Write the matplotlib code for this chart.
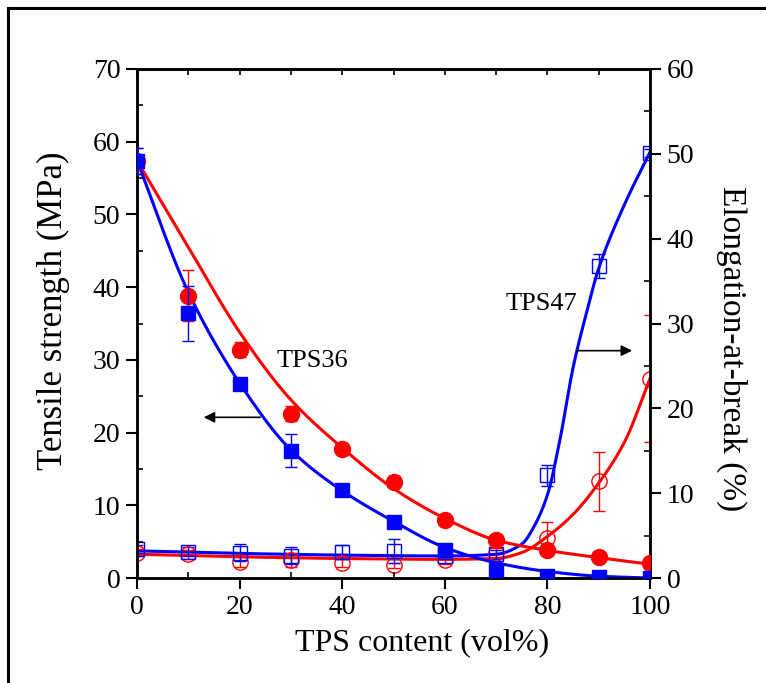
import numpy as np
import matplotlib
matplotlib.use("Agg")
import matplotlib.pyplot as plt
from matplotlib.ticker import MultipleLocator
from matplotlib.lines import Line2D

plt.rcParams['font.family'] = ['Liberation Serif', 'DejaVu Serif']
plt.rcParams['mathtext.fontset'] = 'stix'

# ---------------- data ----------------
tps_content = [0, 10, 20, 30, 40, 50, 60, 70, 80, 90, 100]

# tensile strength (MPa), left axis, filled symbols
ts_tps47 = [57.4, 36.4, 26.7, 17.5, 12.1, 7.7, 3.9, 1.1, 0.3, 0.1, 0.0]
ts_tps47_err = [1.8, 3.8, 0.6, 2.3, 0.8, 0.5, 0.4, 0.3, 0.2, 0.1, 0.1]
ts_tps36 = [57.4, 38.8, 31.4, 22.6, 17.8, 13.2, 8.0, 5.2, 3.85, 2.9, 2.1]
ts_tps36_err = [1.8, 3.5, 1.0, 1.0, 0.5, 0.8, 0.3, 0.3, 0.3, 0.3, 0.2]

# elongation at break (%), right axis, open symbols
el_tps47 = [3.4, 3.1, 3.0, 2.6, 3.1, 3.2, 2.6, 2.8, 12.1, 36.8, 50.1]
el_tps47_err = [0.5, 0.5, 1.0, 1.0, 0.8, 1.4, 0.4, 0.5, 1.2, 1.4, 0.5]
el_tps36 = [3.0, 2.8, 1.9, 2.1, 1.8, 1.5, 2.1, 3.0, 4.7, 11.4, 23.5]
el_tps36_err = [0.4, 0.5, 0.6, 0.8, 0.5, 0.3, 0.5, 0.5, 1.9, 3.5, 7.5]

# fitted curves at node positions
fit_ts_x = [0, 10, 20, 30, 40, 50, 60, 70, 80, 90, 100]
fit_ts_tps47 = [57.4, 39.3, 26.8, 17.6, 12.0, 7.8, 4.2, 2.1, 0.9, 0.25, 0.0]
fit_ts_tps36 = [57.4, 45.5, 33.8, 24.5, 17.9, 12.3, 8.2, 5.2, 3.8, 2.8, 1.9]

fit_el47_x = [0, 20, 40, 60, 70, 75, 77.5, 80, 82.5, 85, 87.5, 90, 95, 100]
fit_el_tps47 = [3.2, 2.9, 2.7, 2.6, 2.8, 4.0, 6.2, 9.8, 16.5, 24.8, 31.0, 36.5, 44.0, 50.2]
fit_el36_x = [0, 20, 40, 60, 70, 75, 80, 85, 90, 95, 100]
fit_el_tps36 = [2.8, 2.5, 2.3, 2.2, 2.3, 3.0, 4.9, 7.5, 11.2, 16.0, 23.5]

xticks = [0, 20, 40, 60, 80, 100]
yticks_left = [0, 10, 20, 30, 40, 50, 60, 70]
yticks_right = [0, 10, 20, 30, 40, 50, 60]


def pchip(xk, yk, xs):
    xk = np.asarray(xk, float)
    yk = np.asarray(yk, float)
    h = np.diff(xk)
    d = np.diff(yk) / h
    n = len(xk)
    m = np.zeros(n)
    for k in range(1, n - 1):
        if d[k - 1] * d[k] <= 0:
            m[k] = 0.0
        else:
            w1 = 2 * h[k] + h[k - 1]
            w2 = h[k] + 2 * h[k - 1]
            m[k] = (w1 + w2) / (w1 / d[k - 1] + w2 / d[k])
    m[0] = d[0]
    m[-1] = d[-1]
    xs = np.asarray(xs, float)
    idx = np.clip(np.searchsorted(xk, xs) - 1, 0, n - 2)
    t = (xs - xk[idx]) / h[idx]
    h00 = 2 * t**3 - 3 * t**2 + 1
    h10 = t**3 - 2 * t**2 + t
    h01 = -2 * t**3 + 3 * t**2
    h11 = t**3 - t**2
    return (h00 * yk[idx] + h10 * h[idx] * m[idx] +
            h01 * yk[idx + 1] + h11 * h[idx] * m[idx + 1])


BLUE = '#0000ff'
RED = '#ff0000'

fig = plt.figure(figsize=(7.66, 6.83), dpi=100)
ax = fig.add_axes([0.1789, 0.1537, 0.6697, 0.7453])
ax2 = ax.twinx()

# figure frame (left and top lines only are visible in the reference)
fig.add_artist(Line2D([0.011, 0.011], [0.0, 0.988], transform=fig.transFigure,
                      color='black', lw=2.2))
fig.add_artist(Line2D([0.011, 1.0], [0.988, 0.988], transform=fig.transFigure,
                      color='black', lw=2.2))

xs = np.linspace(0, 100, 400)

# elongation (right axis) - open symbols
ax2.errorbar(tps_content, el_tps36, yerr=el_tps36_err, fmt='o', ms=11,
             mfc='none', mec=RED, mew=1.0, ecolor=RED, elinewidth=1.0,
             capsize=4.5, capthick=1.0, zorder=3)
ax2.errorbar(tps_content, el_tps47, yerr=el_tps47_err, fmt='s', ms=9.5,
             mfc='none', mec=BLUE, mew=1.0, ecolor=BLUE, elinewidth=1.0,
             capsize=4.5, capthick=1.0, zorder=3)
ax2.plot(xs, pchip(fit_el36_x, fit_el_tps36, xs), color=RED, lw=2.2, zorder=2)
ax2.plot(xs, pchip(fit_el47_x, fit_el_tps47, xs), color=BLUE, lw=2.2, zorder=2)

# tensile strength (left axis) - filled symbols
ax.set_zorder(ax2.get_zorder() + 1)
ax.patch.set_visible(False)
ax.errorbar(tps_content, ts_tps36, yerr=ts_tps36_err, fmt='o', ms=11.5,
            mfc=RED, mec=RED, ecolor=RED, elinewidth=1.0, capsize=4.5,
            capthick=1.0, zorder=3)
ax.errorbar(tps_content, ts_tps47, yerr=ts_tps47_err, fmt='s', ms=10.5,
            mfc=BLUE, mec=BLUE, ecolor=BLUE, elinewidth=1.0, capsize=4.5,
            capthick=1.0, zorder=4)
ax.plot(xs, pchip(fit_ts_x, fit_ts_tps36, xs), color=RED, lw=2.2, zorder=2)
ax.plot(xs, pchip(fit_ts_x, fit_ts_tps47, xs), color=BLUE, lw=2.2, zorder=2)

# annotations
ax.text(34.1, 29.8, 'TPS36', fontsize=19, ha='center', va='center')
ax.text(78.9, 37.7, 'TPS47', fontsize=19, ha='center', va='center')
ax.annotate('', xy=(13.0, 22.1), xytext=(24.0, 22.1),
            arrowprops=dict(arrowstyle='-|>', color='black', lw=1.2,
                            mutation_scale=16, shrinkA=0, shrinkB=0))
ax2.annotate('', xy=(96.5, 26.8), xytext=(85.7, 26.8),
             arrowprops=dict(arrowstyle='-|>', color='black', lw=1.2,
                             mutation_scale=16, shrinkA=0, shrinkB=0))

# axes limits and ticks
ax.set_xlim(0, 100)
ax.set_ylim(0, 70)
ax2.set_ylim(0, 60)
ax.set_xticks(xticks)
ax.set_yticks(yticks_left)
ax2.set_yticks(yticks_right)
ax.xaxis.set_minor_locator(MultipleLocator(10))
ax.yaxis.set_minor_locator(MultipleLocator(5))
ax2.yaxis.set_minor_locator(MultipleLocator(5))

ax.tick_params(axis='both', which='major', direction='out', length=8, width=1.5,
               labelsize=20, pad=4)
ax.tick_params(axis='both', which='minor', direction='in', length=4, width=1.2)
ax2.tick_params(axis='y', which='major', direction='out', length=8, width=1.5,
                labelsize=20, pad=4)
ax2.tick_params(axis='y', which='minor', direction='in', length=4, width=1.2)

top = ax.secondary_xaxis('top')
top.set_xticks(np.arange(0, 101, 10))
top.tick_params(direction='in', length=4, width=1.2, labeltop=False)

for a in (ax, ax2):
    for s in a.spines.values():
        s.set_linewidth(1.8)
top.spines['top'].set_linewidth(1.8)

ax.set_xlabel('TPS content (vol%)', fontsize=23)
ax.xaxis.set_label_coords(0.555, -0.098, transform=ax.transAxes)
ax.xaxis.label.set_va('top')
ax.set_ylabel('Tensile strength (MPa)', fontsize=25)
ax.yaxis.set_label_coords(-0.13, 0.525, transform=ax.transAxes)
ax2.set_ylabel('Elongation-at-break (%)', fontsize=24, rotation=-90,
               va='center', ha='center')
ax2.yaxis.set_label_coords(1.16, 0.45, transform=ax.transAxes)

fig.savefig('out.png', dpi=100)
